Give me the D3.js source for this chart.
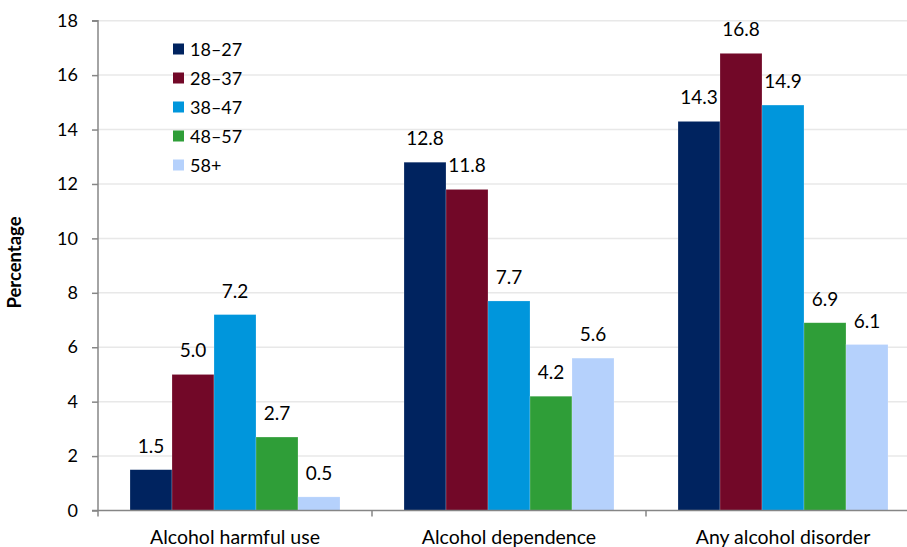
<!DOCTYPE html>
<html><head><meta charset="utf-8">
<script src="https://cdn.jsdelivr.net/npm/d3@7"></script>
<style>body{margin:0;background:#fff}svg{display:block}text{font-family:Lato,"Open Sans",sans-serif;fill:#000}</style>
</head><body><svg id="c" width="907" height="547"></svg>
<script>
const categories = ["Alcohol harmful use","Alcohol dependence","Any alcohol disorder"];
const seriesNames = ["18–27","28–37","38–47","48–57","58+"];
const values1827 = [1.5,12.8,14.3];
const values2837 = [5.0,11.8,16.8];
const values3847 = [7.2,7.7,14.9];
const values4857 = [2.7,4.2,6.9];
const values58 = [0.5,5.6,6.1];
const yTicks = [0,2,4,6,8,10,12,14,16,18];
const colors = ["#00235f","#720828","#0096dc","#2f9e38","#b5d1fc"];
const seriesValues = [values1827,values2837,values3847,values4857,values58];

const svg = d3.select("#c");
const x0 = 98, x1 = 920, yTop = 20.7, yBot = 510.5;
const y = d3.scaleLinear().domain([0,18]).range([yBot,yTop]);
const x = d3.scaleBand().domain(categories).range([x0,x1]).paddingInner(0).paddingOuter(0);
const bw = x.bandwidth();
const xs = d3.scaleBand().domain(seriesNames).range([bw*0.1168, bw*(1-0.1168)]).padding(0);

// gridlines
svg.append("g").selectAll("line").data(yTicks.filter(d=>d>0)).join("line")
  .attr("x1",x0).attr("x2",907).attr("y1",d=>y(d)).attr("y2",d=>y(d))
  .attr("stroke","#e8e8e8").attr("stroke-width",1.5);

// bars
const g = svg.append("g");
seriesNames.forEach((s,i)=>{
  g.append("g").selectAll("rect").data(categories).join("rect")
    .attr("x",(c)=>x(c)+xs(s)).attr("width",xs.bandwidth())
    .attr("y",(c,j)=>y(seriesValues[i][j])).attr("height",(c,j)=>y(0)-y(seriesValues[i][j]))
    .attr("fill",colors[i]).attr("stroke","rgba(255,255,255,0.35)").attr("stroke-width",0.6);
  g.append("g").selectAll("text").data(categories).join("text")
    .attr("x",(c)=>x(c)+xs(s)+xs.bandwidth()/2)
    .attr("y",(c,j)=>y(seriesValues[i][j])-17)
    .attr("text-anchor","middle").attr("font-size",19)
    .text((c,j)=>seriesValues[i][j].toFixed(1));
});

// y axis
const ya = svg.append("g").attr("transform",`translate(${x0},0)`)
  .call(d3.axisLeft(y).tickValues(yTicks).tickSize(6).tickPadding(14).tickFormat(d3.format("d")));
ya.select(".domain").attr("stroke","#868686").attr("stroke-width",1.5).attr("d",`M-6,${yTop}H0V${yBot}H-6`);
ya.selectAll(".tick line").attr("stroke","#868686").attr("stroke-width",1.5);
ya.selectAll(".tick text").attr("font-size",18).attr("font-family","Lato,sans-serif");

// x axis
const xa = svg.append("g").attr("transform",`translate(0,${yBot})`);
xa.append("line").attr("x1",x0).attr("x2",907).attr("y1",0).attr("y2",0).attr("stroke","#868686").attr("stroke-width",1.5);
xa.selectAll("line.t").data(categories).join("line").attr("class","t")
  .attr("x1",c=>x(c)).attr("x2",c=>x(c)).attr("y1",0).attr("y2",6).attr("stroke","#868686").attr("stroke-width",1.5);
xa.selectAll("text").data(categories).join("text")
  .attr("x",c=>x(c)+bw/2).attr("y",33.5).attr("text-anchor","middle").attr("font-size",19.5).text(c=>c);

// y title
svg.append("text").attr("transform","translate(21,262.5) rotate(-90)").attr("text-anchor","middle")
  .attr("font-size",18.5).attr("font-weight","bold").text("Percentage");

// legend
const lg = svg.append("g").attr("transform","translate(173,49)");
seriesNames.forEach((s,i)=>{
  lg.append("rect").attr("x",0).attr("y",i*29-5.5).attr("width",11).attr("height",11).attr("fill",colors[i]);
  lg.append("text").attr("x",17).attr("y",i*29+6.5).attr("font-size",18).text(s);
});
</script></body></html>
